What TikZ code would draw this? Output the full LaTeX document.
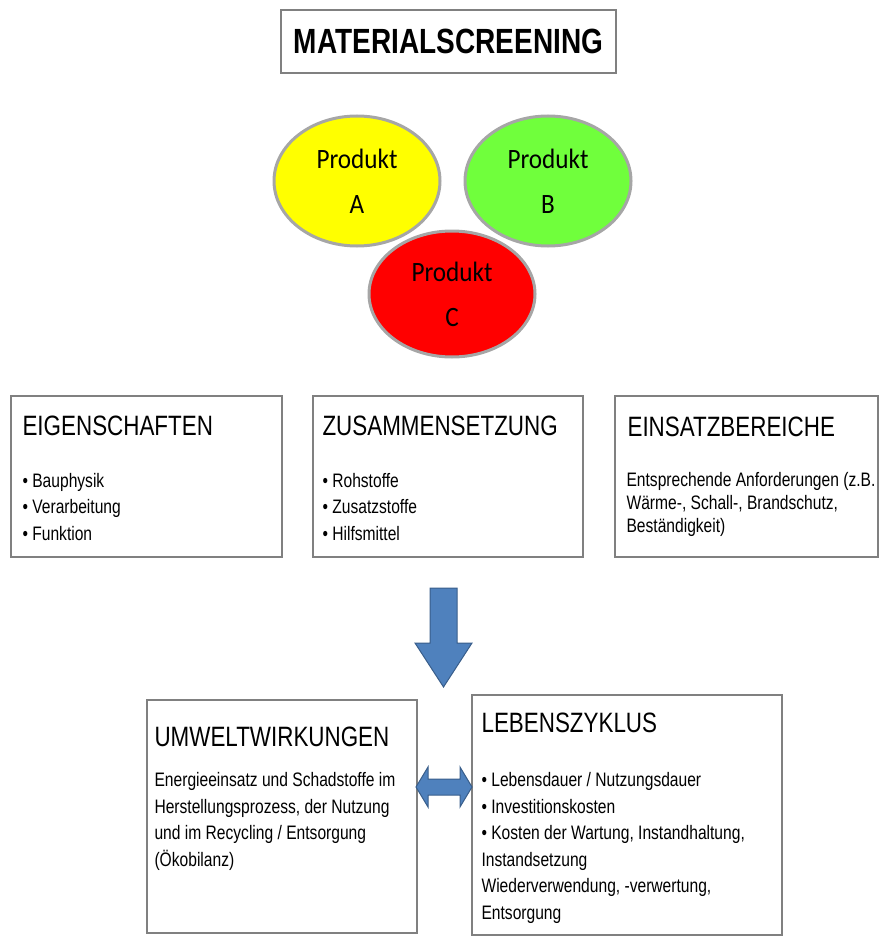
\documentclass[tikz,border=0pt]{standalone}
\usepackage{fontspec}
\setmainfont{Liberation Sans}
\newfontfamily\narrowfont{Liberation Sans}[FakeStretch=0.8]
\newfontfamily\produktfont{Carlito}[FakeStretch=0.9]
\usetikzlibrary{shapes.geometric}
\definecolor{boxgray}{RGB}{128,128,128}
\definecolor{ringgray}{RGB}{166,166,166}
\definecolor{prodyellow}{RGB}{255,255,0}
\definecolor{prodgreen}{RGB}{112,255,60}
\definecolor{prodred}{RGB}{255,0,0}
\definecolor{arrowblue}{RGB}{79,129,189}
\definecolor{arrowedge}{RGB}{56,93,138}

\begin{document}
\begin{tikzpicture}[x=1pt, y=-1pt,
        framebox/.style={draw=boxgray, line width=1.3pt, fill=white, inner sep=0pt},
        produkt/.style={ellipse, draw=ringgray, line width=3pt, inner sep=0pt, align=center,
            minimum width=166, minimum height=130, font=\produktfont\fontsize{28}{45}\selectfont},
        headline/.style={anchor=base west, inner sep=0pt, font=\narrowfont\fontsize{28}{30}\selectfont},
        bodytext/.style={anchor=base west, inner sep=0pt, align=left, font=\narrowfont\fontsize{19.5}{26.5}\selectfont},
        blockarrow/.style={fill=arrowblue, draw=arrowedge, line width=1pt, line join=miter}]
        \useasboundingbox (0,0) rectangle (886,936);
        \node[framebox, minimum width=335, minimum height=63, font=\narrowfont\bfseries\fontsize{35}{40}\selectfont] (title) at (448.5,41.5) {MATERIALSCREENING};
        \node[produkt, fill=prodyellow] (proda) at (357,181) {Produkt\\A};
        \node[produkt, fill=prodgreen] (prodb) at (548,181) {Produkt\\B};
        \node[produkt, fill=prodred, minimum height=126] (prodc) at (452,294) {Produkt\\C};

        \node[framebox, minimum width=271, minimum height=161] (eigen) at (146.5,476.5) {};
        \node[framebox, minimum width=270, minimum height=161] (zusammen) at (448,476.5) {};
        \node[framebox, minimum width=263, minimum height=161] (einsatz) at (746.5,476.5) {};
        % base anchor sits on the last line
        \node[headline] (eigenhead) at ([xshift=12pt, yshift=-40pt]eigen.north west) {EIGENSCHAFTEN};
        \node[bodytext] (eigenbody) at ([xshift=12pt, yshift=-145pt]eigen.north west) {\textbullet{} Bauphysik\\\textbullet{} Verarbeitung\\\textbullet{} Funktion};
        \node[headline] (zusammenhead) at ([xshift=10pt, yshift=-40pt]zusammen.north west) {ZUSAMMENSETZUNG};
        \node[bodytext] (zusammenbody) at ([xshift=10pt, yshift=-145pt]zusammen.north west) {\textbullet{} Rohstoffe\\\textbullet{} Zusatzstoffe\\\textbullet{} Hilfsmittel};
        \node[headline] (einsatzhead) at ([xshift=13pt, yshift=-41pt]einsatz.north west) {EINSATZBEREICHE};
        \node[bodytext, font=\narrowfont\fontsize{19.5}{23}\selectfont] (einsatzbody) at ([xshift=12pt, yshift=-137pt]einsatz.north west) {Entsprechende Anforderungen (z.B.\\W\"arme-, Schall-, Brandschutz,\\Best\"andigkeit)};

        \filldraw[blockarrow] (430,588) -- (457,588) -- (457,643) -- (472,643) -- (443.5,687) -- (415,643) -- (430,643) -- cycle;

        \node[framebox, minimum width=270, minimum height=233] (umwelt) at (282,816.5) {};
        \node[framebox, minimum width=310, minimum height=240] (lebens) at (627,815) {};
        \node[headline] (umwelthead) at ([xshift=8pt, yshift=-47pt]umwelt.north west) {UMWELTWIRKUNGEN};
        \node[bodytext] (umweltbody) at ([xshift=8pt, yshift=-167pt]umwelt.north west) {Energieeinsatz und Schadstoffe im\\Herstellungsprozess, der Nutzung\\und im Recycling / Entsorgung\\(\"Okobilanz)};
        \node[headline] (lebenshead) at ([xshift=10pt, yshift=-38pt]lebens.north west) {LEBENSZYKLUS};
        \node[bodytext] (lebensbody) at ([xshift=10pt, yshift=-225pt]lebens.north west) {\textbullet{} Lebensdauer / Nutzungsdauer\\\textbullet{} Investitionskosten\\\textbullet{} Kosten der Wartung, Instandhaltung,\\Instandsetzung\\Wiederverwendung, -verwertung,\\Entsorgung};

        \filldraw[blockarrow] (416,787) -- (428,767) -- (428,779) -- (460,779) -- (460,767) -- (472,787) -- (460,807) -- (460,795) -- (428,795) -- (428,807) -- cycle;
    \end{tikzpicture}
\end{document}
